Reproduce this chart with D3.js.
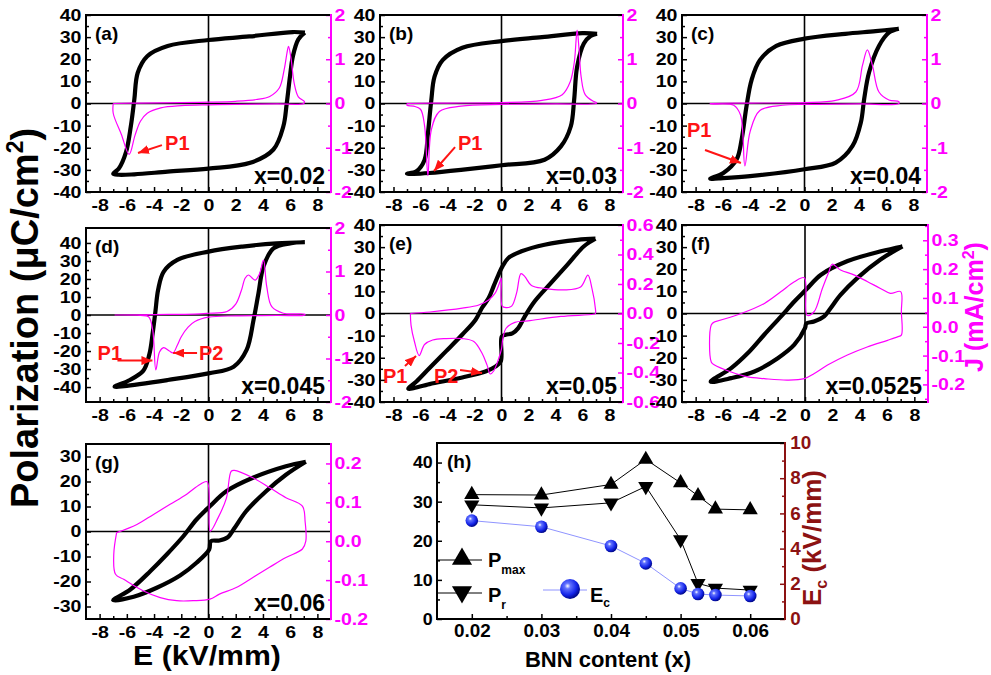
<!DOCTYPE html>
<html>
<head>
<meta charset="utf-8">
<script src="https://cdn.jsdelivr.net/npm/d3@7"></script>
<style>
  body { margin: 0; background: #fff; }
  text { font-family: "Liberation Sans", Arial, Helvetica, sans-serif; font-weight: bold; }
</style>
</head>
<body>
<div class="figure"></div>
<script>
// P-E loops, [E (kV/mm), P (uC/cm2)]: upper branch (right tip -> left tip) then lower branch back
const loopA = [[7.08,32.0],[6.2,32.3],[3.0,30.3],[0,28.7],[-3.0,26.0],[-4.5,21.4],[-5.2,13.9],[-5.45,1.8],[-5.7,-10],[-6.06,-22],[-6.6,-29.5],[-7.0,-31.7],
  [-6.6,-32.2],[-5.45,-32],[-3,-30.8],[0,-29.4],[3.07,-26.8],[4.77,-20.8],[5.5,-10.3],[5.74,-0.4],[5.99,12.4],[6.2,21.4],[6.6,29],[7.08,32.0]];
const loopB = [[7.08,31.5],[6.0,31.8],[3,30],[0,28.2],[-2.9,25.2],[-4.36,19.6],[-4.96,12.1],[-5.2,1.5],[-5.45,-13.6],[-5.7,-25.5],[-6.3,-30.6],[-7.0,-31.7],
  [-6.5,-31.8],[-5.33,-31.4],[-3,-30],[0,-27.9],[3.19,-25.4],[4.4,-19.4],[5.13,-10.4],[5.38,1.6],[5.6,16.6],[6.1,27.1],[6.6,30.5],[7.08,31.5]];
const loopC = [[6.93,33.8],[5.23,32.7],[3,31.5],[0,29.3],[-2.07,26],[-3.28,19.6],[-3.89,10.6],[-4.26,-1.2],[-4.62,-16.3],[-4.99,-25.3],[-5.96,-31.4],[-6.93,-34],
  [-6.3,-33.8],[-4.0,-32.8],[0,-29.7],[2.3,-26.7],[3.53,-19.2],[4.14,-8.6],[4.38,1.9],[4.74,14],[5.47,26],[6.2,32],[6.93,33.8]];
const loopD = [[7.08,40.4],[5.0,39.8],[2.5,38],[0,35.2],[-2.29,30.6],[-3.3,24],[-3.7,14],[-3.9,2],[-4.1,-10],[-4.35,-22],[-4.8,-31],[-5.9,-36.5],[-6.9,-39.8],
  [-6.2,-39.5],[-3.0,-36.1],[0,-32.4],[1.85,-28.7],[2.8,-19.4],[3.31,-2.7],[3.67,12],[4.04,26.9],[4.77,37],[5.99,39.8],[7.08,40.4]];
const loopE = [[6.96,33.8],[5.62,33.3],[3.19,31.1],[1.48,28.1],[0.51,25.1],[0.07,21.3],[-0.22,17.6],[-0.58,12.4],[-0.95,7.0],[-1.44,2.6],[-1.92,-2.8],[-2.9,-9.5],[-4.1,-17],[-5.33,-24.6],[-6.3,-30.7],[-6.9,-34],
  [-5.33,-31.9],[-2.9,-28.9],[-1.19,-26.2],[-0.46,-24],[-0.05,-21.5],[0.02,-10.5],[0.3,-9.6],[0.8,-9.0],[1.24,-6.6],[1.73,-1.3],[2.46,5.5],[3.67,13.8],[4.89,22.1],[6.11,30.4],[6.96,33.8]];
const loopF = [[7.13,30.3],[5.55,28.1],[3.12,23.7],[1.17,17.5],[0.07,10.7],[-0.78,5.4],[-1.75,-1.3],[-2.97,-9.5],[-4.18,-17.9],[-5.4,-24.7],[-6.9,-30.8],
  [-5.4,-29.2],[-3.7,-26.2],[-1.99,-20.2],[-0.78,-14.1],[0,-6.6],[0.1,-4.5],[0.66,-3.6],[1.4,-1.3],[1.87,2.4],[2.6,8.4],[3.82,16],[5.5,24.3],[7.13,30.3]];
const loopG = [[7.15,27.9],[5.69,26.1],[3.26,21.5],[1.31,16.1],[0.1,10.1],[-0.88,4.8],[-1.85,-1.9],[-3.07,-9.2],[-4.28,-15.9],[-5.74,-23.2],[-7.0,-27.5],
  [-5.5,-26.1],[-3.8,-22.5],[-2.09,-17.6],[-0.88,-12.5],[0.05,-7.2],[0.17,-3.9],[0.8,-3.6],[1.42,-2.3],[1.9,1.3],[2.75,8],[4.21,16],[5.69,22.7],[7.15,27.9]];

// switching current, [E (kV/mm), J (mA/cm2)] in measuring order
const curA = [[-7,0],[-5,0.01],[-2,0.02],[0,0.03],[2,0.05],[3.5,0.09],[4.5,0.16],[5.2,0.35],[5.55,0.75],[5.8,1.2],[5.88,1.29],[6.05,1.05],[6.3,0.45],[6.6,0.15],[7.05,0.04],[7.0,0],
  [5,-0.01],[2,-0.02],[0,-0.03],[-2,-0.05],[-3.5,-0.1],[-4.5,-0.22],[-5.0,-0.4],[-5.4,-0.72],[-5.83,-1.15],[-6.4,-0.7],[-7,-0.22],[-7,0]];
const curB = [[-7,0],[-4,0.01],[0,0.02],[3,0.07],[4.5,0.2],[5.1,0.5],[5.4,0.95],[5.6,1.66],[5.75,1.2],[5.9,0.6],[6.2,0.2],[6.8,0.05],[7.05,0.02],[7.0,0],
  [4,-0.01],[0,-0.02],[-3,-0.06],[-4.6,-0.18],[-5.2,-0.6],[-5.45,-1.63],[-5.7,-0.5],[-6.0,-0.13],[-6.5,-0.06],[-7,-0.04],[-7,0]];
const curC = [[-6.93,0],[-4,0.01],[0,0.02],[2.3,0.07],[3.77,0.26],[4.26,0.86],[4.62,1.21],[4.99,0.86],[5.47,0.26],[6.2,0.08],[6.93,0.04],[6.93,0],
  [4,-0.01],[0,-0.02],[-1.6,-0.04],[-3.28,-0.16],[-4.0,-0.64],[-4.38,-1.41],[-4.7,-0.26],[-5.2,-0.04],[-6.93,-0.01],[-6.93,0]];
const curD = [[-6.9,0],[-4,0.01],[-1,0.02],[0,0.04],[1.36,0.08],[2.0,0.25],[2.4,0.55],[2.7,0.85],[2.94,0.92],[3.2,0.85],[3.43,0.8],[3.75,0.95],[4.04,1.26],[4.28,0.65],[4.65,0.19],[5.5,0.04],[7.08,0.02],[7.08,0],
  [5,-0.01],[2,-0.02],[0,-0.05],[-1,-0.15],[-1.5,-0.28],[-2.0,-0.5],[-2.3,-0.7],[-2.6,-0.87],[-2.9,-0.82],[-3.3,-0.75],[-3.6,-0.85],[-3.87,-1.26],[-4.1,-0.34],[-4.4,-0.04],[-5,-0.01],[-6.9,0]];
const curE = [[-6.75,0.0],[-5.3,0.01],[-2.9,0.036],[-1.68,0.058],[-0.95,0.092],[-0.46,0.14],[-0.1,0.22],[-0.02,0.24],[0.05,0.05],[0.34,0.04],[0.75,0.05],[1.12,0.14],[1.44,0.27],[1.73,0.25],[2.22,0.19],[3.19,0.17],[4.65,0.16],[5.86,0.18],[6.4,0.26],[6.7,0.17],[6.96,0.03],[6.96,0.0],
  [6.8,-0.005],[4.4,-0.02],[1.97,-0.05],[0.99,-0.06],[0.34,-0.1],[0.1,-0.17],[0,-0.24],[-0.19,-0.3],[-0.58,-0.39],[-0.83,-0.41],[-1.07,-0.35],[-1.44,-0.27],[-2.05,-0.19],[-2.9,-0.17],[-4.1,-0.17],[-5.1,-0.18],[-5.7,-0.21],[-6.1,-0.285],[-6.45,-0.19],[-6.7,-0.08],[-6.75,0.0]];
const curF = [[-6.62,0.017],[-4.67,0.046],[-2.97,0.081],[-1.75,0.122],[-0.78,0.156],[-0.05,0.17],[0.15,0.04],[0.66,0.052],[1.27,0.133],[1.75,0.191],[1.99,0.217],[2.6,0.197],[3.58,0.18],[4.55,0.157],[5.52,0.133],[6.25,0.116],[7.0,0.122],[7.05,0.052],[7.05,-0.029],
  [6.77,-0.035],[6.04,-0.047],[4.55,-0.07],[3.1,-0.098],[1.65,-0.133],[0.68,-0.162],[-0.05,-0.18],[-1.27,-0.185],[-2.97,-0.18],[-4.18,-0.174],[-5.4,-0.157],[-6.62,-0.133],[-6.86,-0.122],[-6.86,0.006],[-6.62,0.017]];
const curG = [[-6.75,0.022],[-5.26,0.043],[-4.04,0.069],[-2.82,0.095],[-1.6,0.121],[-0.63,0.146],[-0.1,0.153],[0.13,0.026],[0.7,0.06],[1.31,0.11],[1.67,0.18],[1.9,0.182],[3.26,0.163],[4.48,0.138],[5.69,0.112],[6.9,0.09],[7.1,0.05],[7.15,0.0],
  [6.9,-0.02],[5.69,-0.042],[4.48,-0.067],[3.26,-0.093],[2.04,-0.119],[0.8,-0.136],[0.1,-0.149],[-1.12,-0.153],[-2.34,-0.153],[-3.55,-0.145],[-4.77,-0.128],[-6.23,-0.098],[-6.83,-0.085],[-6.96,-0.034],[-6.75,0.022]];

// panel (h)
const bnn  = [0.02, 0.03, 0.04, 0.045, 0.05, 0.0525, 0.055, 0.06];
const pMax = [31.8, 31.7, 34.4, 40.8, 34.8, 31.5, 28.1, 27.9];
const pRem = [29.2, 28.4, 29.7, 33.9, 20.3, 9.1, 7.9, 7.4];
const eCoe = [5.59, 5.24, 4.15, 3.16, 1.74, 1.42, 1.36, 1.31];

// ticks
const eTicks = [-8,-6,-4,-2,0,2,4,6,8], eMinor = [-7,-5,-3,-1,1,3,5,7];
const p40 = [-40,-30,-20,-10,0,10,20,30,40], p40m = [-35,-25,-15,-5,5,15,25,35];
const p30 = [-30,-20,-10,0,10,20,30], p30m = [-25,-15,-5,5,15,25];
const j2 = [-2,-1,0,1,2], j2m = [-1.5,-0.5,0.5,1.5];
const jE = [-0.6,-0.4,-0.2,0,0.2,0.4,0.6], jEm = [-0.5,-0.3,-0.1,0.1,0.3,0.5];
const jF = [-0.2,-0.1,0,0.1,0.2,0.3], jFm = [-0.25,-0.15,-0.05,0.05,0.15,0.25,0.35];
const jG = [-0.2,-0.1,0,0.1,0.2], jGm = [-0.15,-0.05,0.05,0.15];
const xH = [0.02,0.03,0.04,0.05,0.06], xHm = [0.025,0.035,0.045,0.055];
const yH = [0,10,20,30,40], yHm = [5,15,25,35];
const ecT = [0,2,4,6,8,10], ecTm = [1,3,5,7,9];

const MAG = '#ff00ff', RED = '#ff1414', DARKRED = '#8c1212';
const FONT = '"Liberation Sans", Arial, Helvetica, sans-serif';

const width = 991, height = 675;
const svg = d3.select('.figure').append('svg')
    .attr('width', width)
    .attr('height', height)
    .style('background', '#fff');

const defs = svg.append('defs');
defs.append('marker').attr('id', 'arrow')
    .attr('markerUnits', 'userSpaceOnUse')
    .attr('viewBox', '0 0 11 9').attr('refX', 11).attr('refY', 4.5)
    .attr('markerWidth', 11).attr('markerHeight', 9).attr('orient', 'auto')
  .append('path').attr('d', 'M0,0L11,4.5L0,9z').attr('fill', RED);
const grad = defs.append('radialGradient').attr('id', 'ball')
    .attr('cx', '38%').attr('cy', '35%').attr('r', '65%');
grad.append('stop').attr('offset', '0%').attr('stop-color', '#ffffff');
grad.append('stop').attr('offset', '22%').attr('stop-color', '#6272ff');
grad.append('stop').attr('offset', '70%').attr('stop-color', '#1424e8');
grad.append('stop').attr('offset', '100%').attr('stop-color', '#00088a');

function styleAxis(sel, color, size, sx) {
  sel.select('.domain').remove();
  sel.attr('font-family', FONT).attr('font-size', size).attr('font-weight', 'bold').attr('color', color);
  sel.selectAll('line').attr('stroke-width', 1.5);
  if (sx !== 1) sel.selectAll('text').attr('transform', `scale(${sx},1)`);
}

function drawPanel(p) {
  const g = svg.append('g');
  const x = d3.scaleLinear().domain([-9, 9]).range([p.x0, p.x1]);
  const y = d3.scaleLinear().domain(p.pDom).range([p.y1, p.y0]);
  const yj = d3.scaleLinear().domain(p.jDom).range([p.y1, p.y0]);

  // zero lines
  g.append('line').attr('x1', x(0)).attr('x2', x(0)).attr('y1', p.y0).attr('y2', p.y1)
      .attr('stroke', '#000').attr('stroke-width', 1.6);
  g.append('line').attr('x1', p.x0).attr('x2', p.x1).attr('y1', y(0)).attr('y2', y(0))
      .attr('stroke', '#000').attr('stroke-width', 1.6);

  g.append('path').datum(p.loop)
      .attr('d', d3.line().x(d => x(d[0])).y(d => y(d[1])).curve(d3.curveCatmullRom.alpha(0.5)))
      .attr('fill', 'none').attr('stroke', '#000').attr('stroke-width', 4.2)
      .attr('stroke-linejoin', 'round');

  g.append('path').datum(p.cur)
      .attr('d', d3.line().x(d => x(d[0])).y(d => yj(d[1])).curve(d3.curveCatmullRom.alpha(0.5)))
      .attr('fill', 'none').attr('stroke', MAG).attr('stroke-width', 1.2);

  // axes (inward ticks)
  const gl = g.append('g').attr('transform', `translate(${p.x0},0)`);
  gl.append('g').call(d3.axisLeft(y).tickValues(p.pTicks).tickSize(-5).tickPadding(4).tickFormat(String))
      .call(s => styleAxis(s, '#000', 17, 1.15));
  gl.append('g').call(d3.axisLeft(y).tickValues(p.pMinor).tickSize(-3).tickFormat(''))
      .call(s => styleAxis(s, '#000', 17, 1));

  const gb = g.append('g').attr('transform', `translate(0,${p.y1})`);
  gb.append('g').call(d3.axisBottom(x).tickValues(eTicks).tickSize(-5).tickPadding(7).tickFormat(String))
      .call(s => styleAxis(s, '#000', 17, 1.15));
  gb.append('g').call(d3.axisBottom(x).tickValues(eMinor).tickSize(-3).tickFormat(''))
      .call(s => styleAxis(s, '#000', 17, 1));

  const gr = g.append('g').attr('transform', `translate(${p.x1},0)`);
  gr.append('g').call(d3.axisRight(yj).tickValues(p.jTicks).tickSize(-5).tickPadding(3).tickFormat(p.jFmt))
      .call(s => styleAxis(s, MAG, 17, 1.15));
  gr.append('g').call(d3.axisRight(yj).tickValues(p.jMinor).tickSize(-3).tickFormat(''))
      .call(s => styleAxis(s, MAG, 17, 1));

  // frame
  g.append('path').attr('d', `M${p.x1},${p.y0}H${p.x0}V${p.y1}H${p.x1}`)
      .attr('fill', 'none').attr('stroke', '#000').attr('stroke-width', 2);
  g.append('line').attr('x1', p.x1).attr('x2', p.x1).attr('y1', p.y0 - 1).attr('y2', p.y1 + 1)
      .attr('stroke', MAG).attr('stroke-width', 2);

  g.append('text').attr('x', p.x0 + 9).attr('y', p.y0 + 25).attr('font-size', 19).text(p.tag);
  g.append('text').attr('x', p.x1 - 6).attr('y', p.y1 - 8).attr('font-size', 23)
      .attr('text-anchor', 'end').text(p.name);

  // P1 / P2 annotations (in E,P coordinates)
  (p.notes || []).forEach(n => {
    g.append('text').attr('x', x(n.at[0])).attr('y', y(n.at[1])).attr('font-size', 20)
        .attr('fill', RED).text(n.text);
    g.append('line').attr('x1', x(n.from[0])).attr('y1', y(n.from[1]))
        .attr('x2', x(n.to[0])).attr('y2', y(n.to[1]))
        .attr('stroke', RED).attr('stroke-width', 2).attr('marker-end', 'url(#arrow)');
  });
}

const fmt1 = d => d.toFixed(1);
const panels = [
  {tag: '(a)', name: 'x=0.02', x0: 86, x1: 331, y0: 15, y1: 192, pDom: [-40, 40], pTicks: p40, pMinor: p40m,
   jDom: [-2, 2], jTicks: j2, jMinor: j2m, jFmt: String, loop: loopA, cur: curA,
   notes: [{text: 'P1', at: [-3.19, -21.1], from: [-3.42, -18.8], to: [-5.18, -22.4]}]},
  {tag: '(b)', name: 'x=0.03', x0: 380, x1: 623, y0: 15, y1: 192, pDom: [-40, 40], pTicks: p40, pMinor: p40m,
   jDom: [-2, 2], jTicks: j2, jMinor: j2m, jFmt: String, loop: loopB, cur: curB,
   notes: [{text: 'P1', at: [-3.22, -21.1], from: [-3.44, -19.7], to: [-5.0, -30.5]}]},
  {tag: '(c)', name: 'x=0.04', x0: 682, x1: 927, y0: 15, y1: 192, pDom: [-40, 40], pTicks: p40, pMinor: p40m,
   jDom: [-2, 2], jTicks: j2, jMinor: j2m, jFmt: String, loop: loopC, cur: curC,
   notes: [{text: 'P1', at: [-8.63, -15.1], from: [-7.31, -21], to: [-4.67, -26.9]}]},
  {tag: '(d)', name: 'x=0.045', x0: 86, x1: 331, y0: 228, y1: 402, pDom: [-48.3, 48.3], pTicks: p40, pMinor: p40m,
   jDom: [-2, 2], jTicks: j2, jMinor: j2m, jFmt: String, loop: loopD, cur: curD,
   notes: [{text: 'P1', at: [-8.15, -25], from: [-6.69, -25.3], to: [-4.12, -25.3]},
           {text: 'P2', at: [-0.7, -25], from: [-0.84, -21.1], to: [-2.6, -21.1]}]},
  {tag: '(e)', name: 'x=0.05', x0: 380, x1: 623, y0: 225, y1: 402, pDom: [-40, 40], pTicks: p40, pMinor: p40m,
   jDom: [-0.6, 0.6], jTicks: jE, jMinor: jEm, jFmt: fmt1, loop: loopE, cur: curE,
   notes: [{text: 'P1', at: [-8.78, -31.4], from: [-7.15, -23.7], to: [-6.33, -19.2]},
           {text: 'P2', at: [-5.0, -31.4], from: [-3.07, -25.5], to: [-1.44, -26.9]}]},
  {tag: '(f)', name: 'x=0.0525', x0: 682, x1: 928, y0: 225, y1: 402, pDom: [-40, 40], pTicks: p40, pMinor: p40m,
   jDom: [-0.261, 0.353], jTicks: jF, jMinor: jFm, jFmt: fmt1, loop: loopF, cur: curF},
  {tag: '(g)', name: 'x=0.06', x0: 86, x1: 331, y0: 444, y1: 619, pDom: [-35, 35], pTicks: p30, pMinor: p30m,
   jDom: [-0.2, 0.25], jTicks: jG, jMinor: jGm, jFmt: fmt1, loop: loopG, cur: curG}
];
panels.forEach(drawPanel);

// ---- panel (h)
{
  const b = {x0: 437, x1: 785, y0: 443, y1: 619};
  const g = svg.append('g');
  const x = d3.scaleLinear().domain([0.015, 0.065]).range([b.x0, b.x1]);
  const y = d3.scaleLinear().domain([0, 45]).range([b.y1, b.y0]);
  const yr = d3.scaleLinear().domain([0, 10]).range([b.y1, b.y0]);
  const rows = bnn.map((v, i) => ({x: v, pm: pMax[i], pr: pRem[i], ec: eCoe[i]}));

  g.append('path').datum(rows).attr('d', d3.line().x(d => x(d.x)).y(d => yr(d.ec)))
      .attr('fill', 'none').attr('stroke', '#8f94ff').attr('stroke-width', 1);
  g.append('path').datum(rows).attr('d', d3.line().x(d => x(d.x)).y(d => y(d.pm)))
      .attr('fill', 'none').attr('stroke', '#000').attr('stroke-width', 1);
  g.append('path').datum(rows).attr('d', d3.line().x(d => x(d.x)).y(d => y(d.pr)))
      .attr('fill', 'none').attr('stroke', '#000').attr('stroke-width', 1);

  const tri = d3.symbol().type(d3.symbolTriangle).size(100);
  g.selectAll('.pm').data(rows).enter().append('path').attr('class', 'pm')
      .attr('d', tri).attr('transform', d => `translate(${x(d.x)},${y(d.pm)})`);
  g.selectAll('.pr').data(rows).enter().append('path').attr('class', 'pr')
      .attr('d', tri).attr('transform', d => `translate(${x(d.x)},${y(d.pr)}) rotate(180)`);
  g.selectAll('.ec').data(rows).enter().append('circle').attr('class', 'ec')
      .attr('cx', d => x(d.x)).attr('cy', d => yr(d.ec)).attr('r', 6.3).attr('fill', 'url(#ball)');

  const gl = g.append('g').attr('transform', `translate(${b.x0},0)`);
  gl.append('g').call(d3.axisLeft(y).tickValues(yH).tickSize(-5).tickPadding(4).tickFormat(String))
      .call(s => styleAxis(s, '#000', 17, 1.05));
  gl.append('g').call(d3.axisLeft(y).tickValues(yHm).tickSize(-3).tickFormat(''))
      .call(s => styleAxis(s, '#000', 17, 1));
  const gb = g.append('g').attr('transform', `translate(0,${b.y1})`);
  gb.append('g').call(d3.axisBottom(x).tickValues(xH).tickSize(-5).tickPadding(5).tickFormat(d => d.toFixed(2)))
      .call(s => styleAxis(s, '#000', 18, 1.05));
  gb.append('g').call(d3.axisBottom(x).tickValues(xHm).tickSize(-3).tickFormat(''))
      .call(s => styleAxis(s, '#000', 17, 1));
  const gr = g.append('g').attr('transform', `translate(${b.x1},0)`);
  gr.append('g').call(d3.axisRight(yr).tickValues(ecT).tickSize(-5).tickPadding(5).tickFormat(String))
      .call(s => styleAxis(s, DARKRED, 18, 1.05));
  gr.append('g').call(d3.axisRight(yr).tickValues(ecTm).tickSize(-3).tickFormat(''))
      .call(s => styleAxis(s, DARKRED, 17, 1));

  g.append('path').attr('d', `M${b.x1},${b.y0}H${b.x0}V${b.y1}H${b.x1}`)
      .attr('fill', 'none').attr('stroke', '#000').attr('stroke-width', 2);
  g.append('line').attr('x1', b.x1).attr('x2', b.x1).attr('y1', b.y0 - 1).attr('y2', b.y1 + 1)
      .attr('stroke', DARKRED).attr('stroke-width', 2);
  g.append('text').attr('x', b.x0 + 10).attr('y', b.y0 + 25).attr('font-size', 19).text('(h)');

  // legend
  const lg = g.append('g').attr('transform', `translate(${b.x0},${b.y1})`);
  const bigTri = d3.symbol().type(d3.symbolTriangle).size(175);
  lg.append('line').attr('x1', 0).attr('x2', 45).attr('y1', -59).attr('y2', -59).attr('stroke', '#000');
  lg.append('path').attr('d', bigTri).attr('transform', 'translate(25,-60)');
  const t1 = lg.append('text').attr('x', 51).attr('y', -52).attr('font-size', 20).text('P');
  t1.append('tspan').attr('font-size', 12).attr('dy', 7).text('max');
  lg.append('line').attr('x1', 0).attr('x2', 45).attr('y1', -26).attr('y2', -26).attr('stroke', '#000');
  lg.append('path').attr('d', bigTri).attr('transform', 'translate(25,-27) rotate(180)');
  const t2 = lg.append('text').attr('x', 51).attr('y', -17).attr('font-size', 20).text('P');
  t2.append('tspan').attr('font-size', 12).attr('dy', 7).text('r');
  lg.append('line').attr('x1', 106).attr('x2', 150).attr('y1', -29).attr('y2', -29).attr('stroke', '#8f94ff');
  lg.append('circle').attr('cx', 133).attr('cy', -30).attr('r', 10).attr('fill', 'url(#ball)');
  const t3 = lg.append('text').attr('x', 153).attr('y', -17).attr('font-size', 20).text('E');
  t3.append('tspan').attr('font-size', 12).attr('dy', 5).text('c');

  // right axis title
  const et = g.append('text').attr('transform', `translate(${b.x1 + 36},${(b.y0 + b.y1) / 2 + 7}) rotate(-90)`)
      .attr('text-anchor', 'middle').attr('font-size', 26).attr('fill', DARKRED).text('E');
  et.append('tspan').attr('font-size', 16).attr('dy', 6).text('c');
  et.append('tspan').attr('dy', -6).text(' (kV/mm)');

  g.append('text').attr('x', (b.x0 + b.x1) / 2 - 3).attr('y', 667).attr('text-anchor', 'middle')
      .attr('font-size', 22).text('BNN content (x)');
}

// ---- shared axis titles
const pt = svg.append('text').attr('transform', 'translate(38,318) rotate(-90)')
    .attr('text-anchor', 'middle').attr('font-size', 38).text('Polarization (\u03bcC/cm');
pt.append('tspan').attr('font-size', 23).attr('dy', -15).text('2');
pt.append('tspan').attr('dy', 15).text(')');

const jt = svg.append('text').attr('transform', 'translate(983,307) rotate(-90)')
    .attr('text-anchor', 'middle').attr('font-size', 25).attr('fill', MAG).text('J (mA/cm');
jt.append('tspan').attr('font-size', 16).attr('dy', -9).text('2');
jt.append('tspan').attr('dy', 9).text(')');

svg.append('text').attr('transform', 'translate(207,665) scale(1.12,1)')
    .attr('text-anchor', 'middle').attr('font-size', 27).text('E (kV/mm)');
</script>
</body>
</html>
